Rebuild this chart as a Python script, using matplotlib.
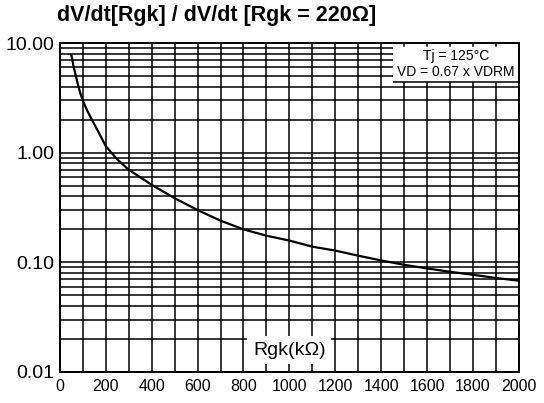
import matplotlib
matplotlib.use("Agg")
import matplotlib.pyplot as plt
from matplotlib.ticker import FixedLocator, NullFormatter, LogLocator
from matplotlib.patches import Rectangle
import matplotlib.transforms as mtrans

plt.rcParams['font.family'] = ['Liberation Sans', 'DejaVu Sans']

# data
rgk = [50, 60, 70, 80, 90, 100, 120, 140, 175, 200, 250, 300, 400, 500, 600,
       700, 800, 900, 1000, 1100, 1200, 1300, 1400, 1500, 1600, 1700, 1800,
       1900, 2000]
ratio = [7.8, 6.1, 5.0, 4.1, 3.45, 3.0, 2.4, 2.0, 1.45, 1.15, 0.87, 0.70,
         0.51, 0.385, 0.30, 0.24, 0.20, 0.175, 0.158, 0.139, 0.128, 0.115,
         0.104, 0.095, 0.088, 0.082, 0.077, 0.072, 0.068]
x_ticks = [0, 200, 400, 600, 800, 1000, 1200, 1400, 1600, 1800, 2000]
x_minor = list(range(100, 2000, 200))
y_ticks = [0.01, 0.1, 1, 10]
y_labels = ["0.01", "0.10", "1.00", "10.00"]

fig = plt.figure(figsize=(5.44, 4.03), dpi=100)
ax = fig.add_axes([0.110, 0.077, 0.844, 0.816])
ax.set_yscale('log')
ax.set_xlim(0, 2000)
ax.set_ylim(0.01, 10)

ax.xaxis.set_major_locator(FixedLocator(x_ticks))
ax.xaxis.set_minor_locator(FixedLocator(x_minor))
ax.yaxis.set_major_locator(FixedLocator(y_ticks))
ax.set_yticklabels(y_labels)
ax.yaxis.set_minor_locator(LogLocator(base=10, subs=range(2, 10)))
ax.yaxis.set_minor_formatter(NullFormatter())

ax.grid(True, which='both', color='black', linewidth=1.1)
ax.set_axisbelow(True)
ax.tick_params(which='both', direction='in', length=0, colors='black')
ax.tick_params(axis='x', labelsize=11.5, pad=5)
ax.tick_params(axis='y', labelsize=14, pad=4)
for s in ax.spines.values():
    s.set_linewidth(1.4)
    s.set_zorder(5)

ax.plot(rgk, ratio, color='black', linewidth=1.6, zorder=3)

# white annotation box upper right
ax.add_patch(Rectangle((1450, 4.4), 550, 10 - 4.4, facecolor='white',
                       edgecolor='none', zorder=1))
ax.hlines(4.4, 1450, 2000, color='black', linewidth=1.1, zorder=1.5)
trans = mtrans.blended_transform_factory(ax.transData, ax.transAxes)
for xv in range(1500, 2000, 100):
    ax.plot([xv, xv], [1.0, 0.992], color='black', linewidth=1.1,
            transform=trans, zorder=1.5)
ax.text(1725, 7.6, "Tj = 125°C", ha='center', va='center', fontsize=10,
        zorder=2)
ax.text(1725, 5.5, "VD = 0.67 x VDRM", ha='center', va='center',
        fontsize=10, zorder=2)

ax.text(1000, 0.0158, "Rgk(kΩ)", ha='center', va='center', fontsize=14,
        zorder=2,
        bbox=dict(facecolor='white', edgecolor='none', pad=4))

fig.text(0.105, 0.962, "dV/dt[Rgk] / dV/dt [Rgk = 220Ω]", ha='left',
         va='center', fontsize=15.5, fontweight='bold')

fig.savefig("out.png", dpi=100)
